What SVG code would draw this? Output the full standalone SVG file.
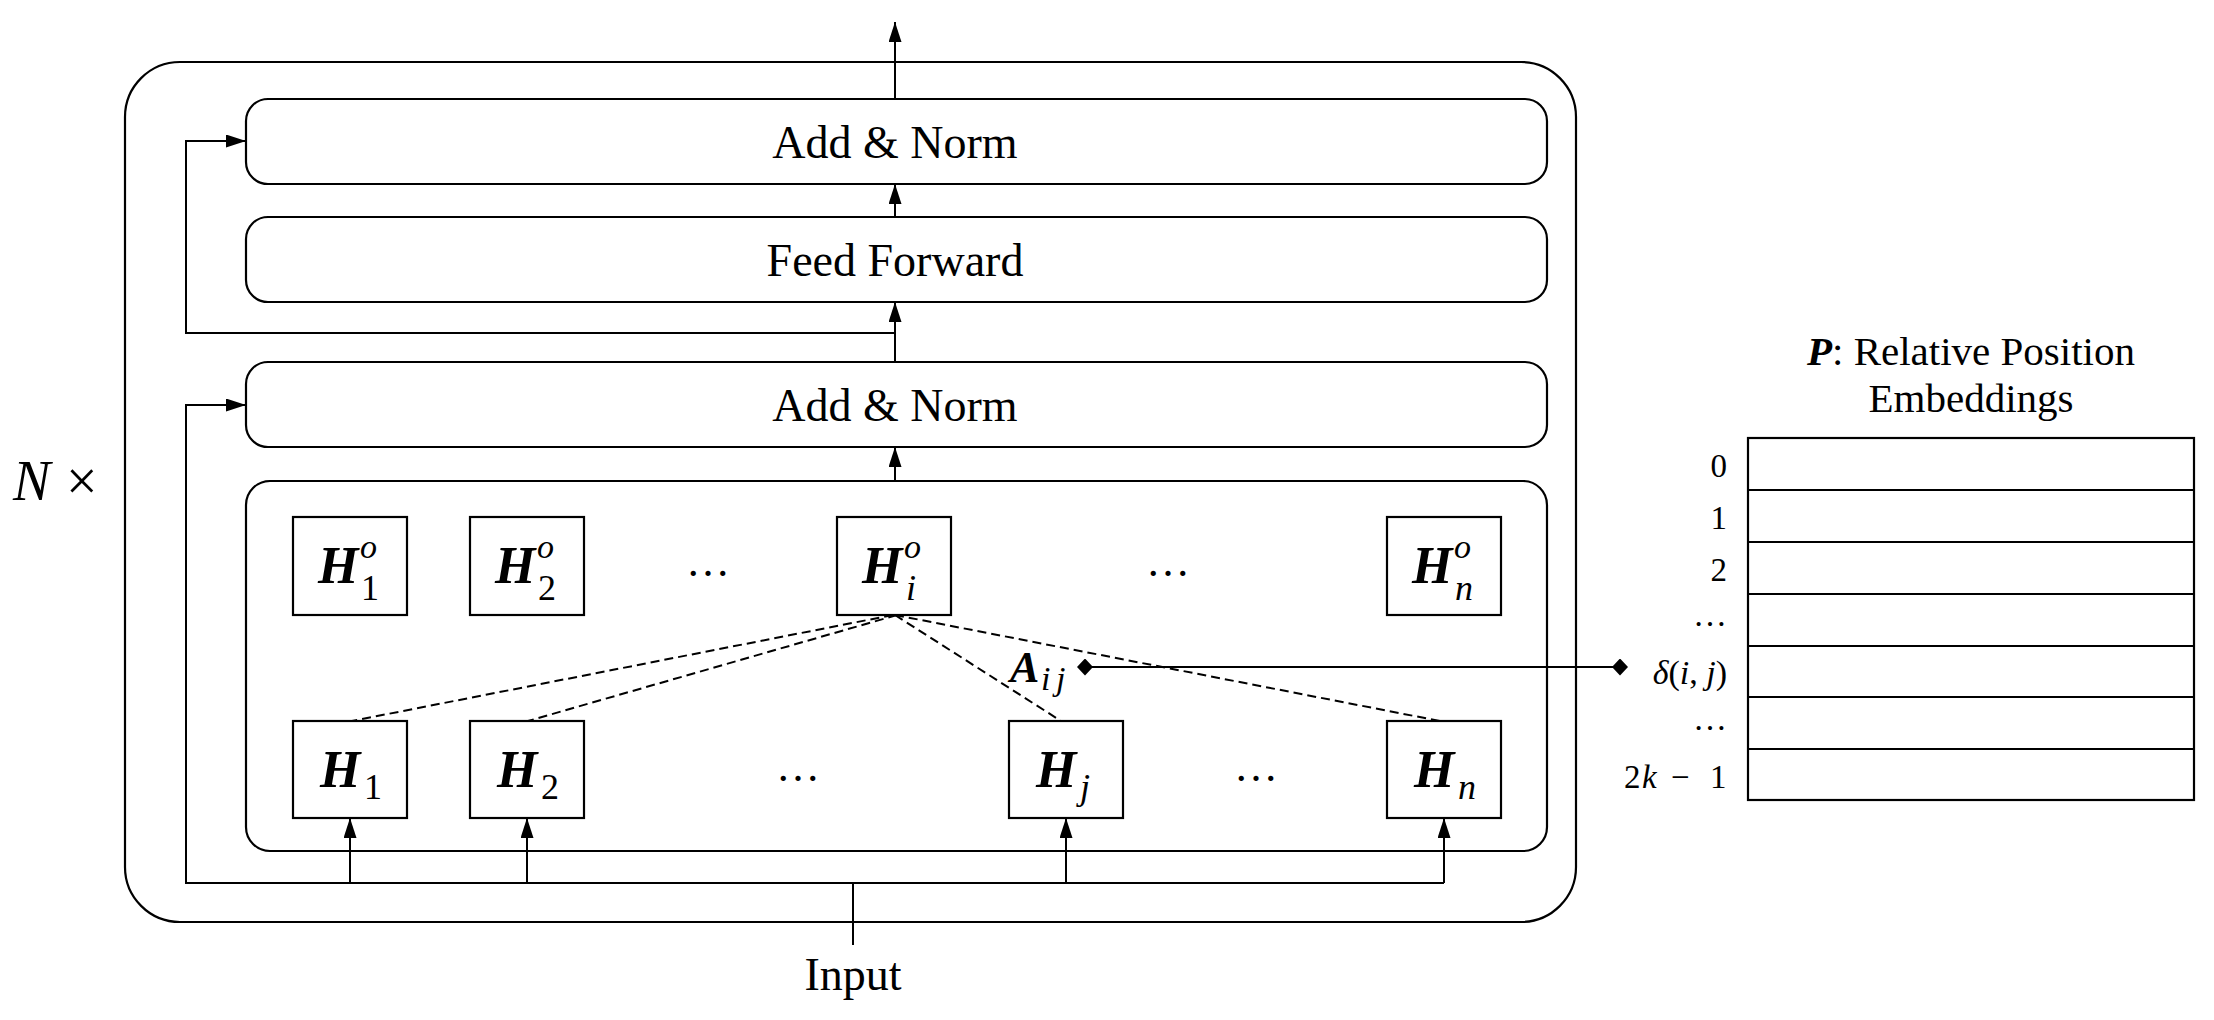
<svg xmlns="http://www.w3.org/2000/svg" width="2214" height="1020" viewBox="0 0 2214 1020">
<defs>
<style>
.box{fill:#fff;stroke:#000;stroke-width:2.2}
.ln{fill:none;stroke:#000;stroke-width:2}
.dash{fill:none;stroke:#000;stroke-width:2;stroke-dasharray:9 5}
.t{font-family:"Liberation Serif","Times New Roman",serif;font-size:46px;fill:#000}
.m{font-family:"Liberation Serif","Times New Roman",serif;fill:#000}
.bi{font-weight:bold;font-style:italic}
.it{font-style:italic}
.hb{font-size:52px;font-weight:bold;font-style:italic}
.sb{font-size:36px;font-weight:normal}
.sp{font-size:34px;font-weight:normal;font-style:italic}
</style>
<marker id="arr" viewBox="0 0 20 13" refX="20" refY="6.5" markerWidth="20" markerHeight="13" markerUnits="userSpaceOnUse" orient="auto">
<path d="M0,0 L20,6.5 L0,13 z" fill="#000"/>
</marker>
<marker id="dia" viewBox="0 0 16 17" refX="8" refY="8.5" markerWidth="16" markerHeight="17" markerUnits="userSpaceOnUse" orient="0">
<path d="M8,0 L16,8.5 L8,17 L0,8.5 z" fill="#000"/>
</marker>
</defs>
<rect width="2214" height="1020" fill="#fff"/>

<g id="outer">
<rect class="box" x="125" y="62" width="1451" height="860" rx="55" ry="55"/>
<text class="m" y="500" font-size="56"><tspan class="it" x="13">N</tspan><tspan x="66">×</tspan></text>
</g>

<g id="add-norm-top">
<rect class="box" x="246" y="99" width="1301" height="85" rx="22" ry="22"/>
<text class="t" x="895" y="158" text-anchor="middle">Add &amp; Norm</text>
</g>
<g id="feed-forward">
<rect class="box" x="246" y="217" width="1301" height="85" rx="22" ry="22"/>
<text class="t" x="895" y="276" text-anchor="middle">Feed Forward</text>
</g>
<g id="add-norm-bottom">
<rect class="box" x="246" y="362" width="1301" height="85" rx="22" ry="22"/>
<text class="t" x="895" y="421" text-anchor="middle">Add &amp; Norm</text>
</g>
<g id="attention">
<rect class="box" x="246" y="481" width="1301" height="370" rx="24" ry="24"/>
</g>

<g id="Ho1">
<rect class="box" x="293" y="517" width="114" height="98"/>
<text class="m"><tspan class="hb" x="318" y="583">H</tspan><tspan class="sp" x="360" y="558">o</tspan><tspan class="sb" x="361" y="600">1</tspan></text>
</g>
<g id="Ho2">
<rect class="box" x="470" y="517" width="114" height="98"/>
<text class="m"><tspan class="hb" x="495" y="583">H</tspan><tspan class="sp" x="537" y="558">o</tspan><tspan class="sb" x="538" y="600">2</tspan></text>
</g>
<g id="Hoi">
<rect class="box" x="837" y="517" width="114" height="98"/>
<text class="m"><tspan class="hb" x="862" y="583">H</tspan><tspan class="sp" x="904" y="558">o</tspan><tspan class="sb it" x="906" y="600">i</tspan></text>
</g>
<g id="Hon">
<rect class="box" x="1387" y="517" width="114" height="98"/>
<text class="m"><tspan class="hb" x="1412" y="583">H</tspan><tspan class="sp" x="1454" y="558">o</tspan><tspan class="sb it" x="1455" y="600">n</tspan></text>
</g>
<text class="m" x="708" y="576" font-size="44" text-anchor="middle">…</text>
<text class="m" x="1168" y="576" font-size="44" text-anchor="middle">…</text>

<g id="H1">
<rect class="box" x="293" y="721" width="114" height="97"/>
<text class="m"><tspan class="hb" x="320" y="787">H</tspan><tspan class="sb" x="364" y="799">1</tspan></text>
</g>
<g id="H2">
<rect class="box" x="470" y="721" width="114" height="97"/>
<text class="m"><tspan class="hb" x="497" y="787">H</tspan><tspan class="sb" x="541" y="799">2</tspan></text>
</g>
<g id="Hj">
<rect class="box" x="1009" y="721" width="114" height="97"/>
<text class="m"><tspan class="hb" x="1036" y="787">H</tspan><tspan class="sb it" x="1080" y="799">j</tspan></text>
</g>
<g id="Hn">
<rect class="box" x="1387" y="721" width="114" height="97"/>
<text class="m"><tspan class="hb" x="1414" y="787">H</tspan><tspan class="sb it" x="1458" y="799">n</tspan></text>
</g>
<text class="m" x="798" y="781" font-size="44" text-anchor="middle">…</text>
<text class="m" x="1256" y="781" font-size="44" text-anchor="middle">…</text>

<g id="Aij">
<text class="m"><tspan class="bi" font-size="44" x="1010" y="682">A</tspan><tspan class="it" font-size="34" x="1041" y="690">i</tspan><tspan class="it" font-size="34" x="1056" y="690">j</tspan></text>
</g>

<g id="input-label">
<text class="t" x="853" y="990" text-anchor="middle">Input</text>
</g>

<g id="rpe-table">
<text class="m" x="1971" y="365" font-size="41" text-anchor="middle"><tspan class="bi">P</tspan>: Relative Position</text>
<text class="m" x="1971" y="412" font-size="41" text-anchor="middle">Embeddings</text>
<rect class="box" x="1748" y="438" width="446" height="362"/>
<path class="ln" d="M1748,490 H2194 M1748,542 H2194 M1748,594 H2194 M1748,646 H2194 M1748,697 H2194 M1748,749 H2194"/>
<text class="m" x="1727" y="477" font-size="33" text-anchor="end">0</text>
<text class="m" x="1727" y="529" font-size="33" text-anchor="end">1</text>
<text class="m" x="1727" y="581" font-size="33" text-anchor="end">2</text>
<text class="m" x="1727" y="626" font-size="34" text-anchor="end">…</text>
<text class="m" x="1727" y="684" font-size="34" text-anchor="end"><tspan class="it">δ</tspan>(<tspan class="it">i</tspan>, <tspan class="it">j</tspan>)</text>
<text class="m" x="1727" y="730" font-size="34" text-anchor="end">…</text>
<text class="m" font-size="33" y="788"><tspan x="1624">2</tspan><tspan class="it" x="1642">k</tspan><tspan x="1671">−</tspan><tspan x="1710">1</tspan></text>
</g>

<g id="connectors">
<line class="ln" x1="895" y1="99" x2="895" y2="22" marker-end="url(#arr)"/>
<line class="ln" x1="895" y1="217" x2="895" y2="184" marker-end="url(#arr)"/>
<line class="ln" x1="895" y1="362" x2="895" y2="302" marker-end="url(#arr)"/>
<polyline class="ln" points="895,333 186,333 186,141 246,141" marker-end="url(#arr)"/>
<line class="ln" x1="895" y1="481" x2="895" y2="447" marker-end="url(#arr)"/>
<polyline class="ln" points="1444,883 186,883 186,405 246,405" marker-end="url(#arr)"/>
<line class="ln" x1="350" y1="883" x2="350" y2="818" marker-end="url(#arr)"/>
<line class="ln" x1="527" y1="883" x2="527" y2="818" marker-end="url(#arr)"/>
<line class="ln" x1="1066" y1="883" x2="1066" y2="818" marker-end="url(#arr)"/>
<line class="ln" x1="1444" y1="883" x2="1444" y2="818" marker-end="url(#arr)"/>
<line class="ln" x1="853" y1="883" x2="853" y2="945"/>
<line class="dash" x1="893" y1="615" x2="352" y2="721"/>
<line class="dash" x1="897" y1="615" x2="528" y2="721"/>
<line class="dash" x1="895" y1="615" x2="1061" y2="721"/>
<line class="dash" x1="895" y1="615" x2="1440" y2="721"/>
<line class="ln" x1="1085" y1="667" x2="1620" y2="667" stroke-width="2.6" marker-start="url(#dia)" marker-end="url(#dia)"/>
</g>
</svg>
